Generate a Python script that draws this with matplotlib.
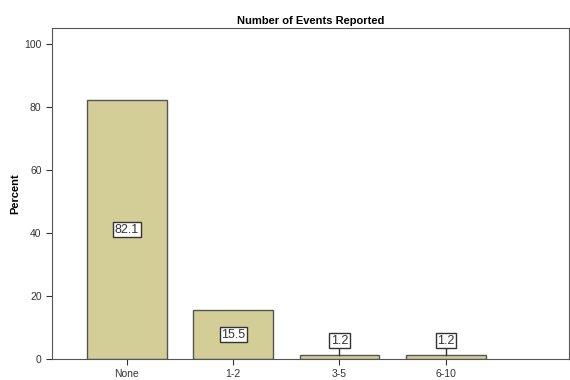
import numpy as np
import matplotlib.pyplot as plt

plt.rcParams['font.family'] = ['Liberation Sans', 'DejaVu Sans']

categories = ["None", "1-2", "3-5", "6-10"]
percents = [82.1, 15.5, 1.2, 1.2]
yticks = [0, 20, 40, 60, 80, 100]

fig = plt.figure(figsize=(5.7, 3.8), dpi=100)
ax = fig.add_axes([52/570, 21/380, 517/570, 331/380])

x = np.arange(len(categories))
bars = ax.bar(x, percents, width=0.75, color="#d3cd97", edgecolor="#555555", linewidth=1.0)

box = dict(boxstyle="square,pad=0.12", facecolor="white", edgecolor="#333333", linewidth=1)
for xi, v in zip(x, percents):
  if v > 10:
    ax.text(xi, v / 2, f"{v:.1f}", ha="center", va="center", fontsize=9, color="#333333", bbox=box)
  else:
    # small bars: label sits above with a leader line
    ax.plot([xi, xi], [v, 4.4], color="#333333", linewidth=1)
    ax.text(xi, 5.8, f"{v:.1f}", ha="center", va="center", fontsize=9, color="#333333", bbox=box)

ax.set_xlim(-0.705, 4.16)
ax.set_ylim(0, 105)
ax.set_yticks(yticks)
ax.set_xticks(x)
ax.set_xticklabels(categories)
ax.tick_params(labelsize=7.5, length=4, color="#333333", labelcolor="#333333")
ax.set_ylabel("Percent", fontsize=8, fontweight="bold", labelpad=3)
ax.set_title("Number of Events Reported", fontsize=8, fontweight="bold", pad=3)
for s in ax.spines.values():
  s.set_color("#555555")

fig.savefig("out.png", dpi=100)
